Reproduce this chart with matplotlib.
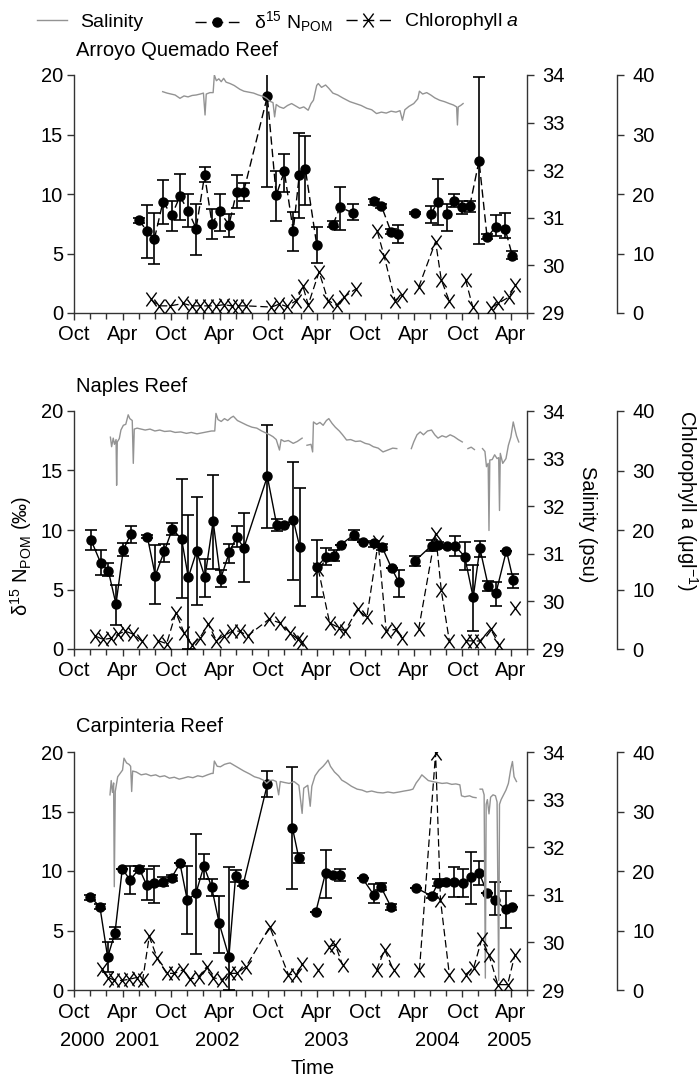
import numpy as np
import matplotlib
matplotlib.use("Agg")
import matplotlib.pyplot as plt
from matplotlib.path import Path
from matplotlib.lines import Line2D

plt.rcParams['font.family'] = ['Liberation Sans', 'DejaVu Sans']
plt.rcParams['mathtext.fontset'] = 'custom'
plt.rcParams['mathtext.rm'] = 'Liberation Sans'
plt.rcParams['mathtext.it'] = 'Liberation Sans:italic'
plt.rcParams['font.size'] = 14.5

nan = np.nan

# time axis: months counted from 1 Oct 2000; nan = break in the line
# ---------------- Arroyo Quemado Reef ----------------
aq_month = [8.07, 8.98, 9.93, 11.0, 12.07, 13.1, 14.1, 15.1, 16.15, 17.06, 18.0, 19.16, 20.1, 20.97,
            23.9, 25.0, 26.0, 27.1, 27.85, 28.6, 30.0, nan,
            32.0, 32.9, 34.5, nan, 37.1, 38.0, 39.2, 40.1, nan, 42.1, nan,
            44.1, 45.0, 46.05, 46.98, 48.0, 48.93, 50.07, 51.07, 52.14, 53.3, 54.2]
aq_d15n = [7.8, 6.9, 6.2, 9.35, 8.2, 9.8, 8.6, 7.1, 11.6, 7.5, 8.55, 7.4, 10.2, 10.2,
           18.2, 9.9, 11.9, 6.9, 11.6, 12.1, 5.75, nan,
           7.4, 8.9, 8.4, nan, 9.4, 9.0, 6.8, 6.65, nan, 8.4, nan,
           8.3, 9.35, 8.3, 9.4, 8.9, 9.0, 12.8, 6.35, 7.25, 7.05, 4.8]
aq_lo = [7.6, 4.6, 4.1, 7.5, 6.9, 7.8, 7.2, 4.9, 11.0, 6.2, 6.9, 6.4, 8.8, 9.4,
         10.6, 7.7, 10.2, 5.2, 8.0, 9.1, 4.2, nan,
         7.2, 7.0, 7.8, nan, 9.1, 8.8, 6.6, 5.9, nan, 8.3, nan,
         7.6, 7.4, 6.9, 8.9, 8.3, 8.5, 5.8, 6.2, 6.5, 6.3, 4.5]
aq_hi = [8.0, 9.1, 8.4, 11.2, 9.4, 11.7, 10.0, 9.2, 12.3, 8.7, 10.0, 8.3, 11.6, 10.9,
         20.4, 11.9, 13.4, 8.5, 15.1, 14.9, 7.2, nan,
         7.7, 10.6, 9.2, nan, 9.6, 9.2, 7.1, 7.4, nan, 8.5, nan,
         9.0, 11.3, 9.2, 10.0, 9.4, 9.4, 19.8, 6.6, 8.2, 8.4, 5.2]
aq_chl_month = [9.5, 10.5, 11.9, 13.5, 14.6, 15.6, 16.6, 17.55, 18.5, 19.5, 20.3, 21.3, 24.4, 25.4,
                26.3, 27.5, 28.3, 28.95, 30.3, 31.4, 32.46, 33.4, 34.9, nan,
                37.5, 38.35, 39.7, 40.5, nan, 42.6, 44.7, 45.4, 46.4, nan,
                48.4, 49.3, nan, 51.6, 52.4, 53.8, 54.5]
aq_chl = [2.3, 1.2, 1.2, 1.6, 1.2, 1.2, 1.2, 1.2, 1.4, 1.2, 1.2, 1.2, 1.0, 1.5,
          1.1, 2.1, 4.5, 1.4, 6.9, 2.1, 1.3, 2.7, 4.1, nan,
          13.7, 9.5, 2.1, 3.0, nan, 4.3, 12.0, 5.6, 2.0, nan,
          5.6, 1.0, nan, 0.9, 1.6, 2.7, 4.7]
aq_sal_month = [10.96, 11.5, 12.0, 12.5, 13.1, 13.6, 14.1, 14.6, 15.1, 15.6, 16.0, 16.2, 16.35, 16.8,
                17.2, 17.35, 17.6, 17.9, 18.2, 18.5, 18.8, 19.3, 19.8, 20.5, 21.0, 21.6, 22.2, 22.8,
                23.4, 23.8, 24.2, 24.6, 24.8, 25.0, 25.4, 25.9, 26.4, 26.9, 27.4, 27.9, 28.4, 28.95,
                29.3, 29.6, 30.0, 30.2, 30.6, 31.1, 31.5, 32.0, 32.6, 33.2, 34.1, 34.8, 35.5, 36.2,
                36.8, 37.4, 38.0, 38.6, 39.2, 39.8, 40.3, 40.6, 40.9, 41.4, 42.0, 42.5, 42.7, 43.1,
                43.6, 44.1, 44.6, 45.2, 45.8, 46.4, 46.9, 47.3, 47.4, 47.5, 47.8, 48.1]
aq_sal = [33.65, 33.62, 33.60, 33.58, 33.51, 33.56, 33.54, 33.57, 33.58, 33.60, 33.62, 33.16, 33.60, 33.63,
          33.63, 34.00, 33.88, 33.92, 33.86, 33.93, 33.85, 33.82, 33.78, 33.70, 33.66, 33.64, 33.62, 33.58,
          33.55, 33.51, 33.45, 33.42, 33.12, 33.38, 33.33, 33.30, 33.36, 33.40, 33.35, 33.30, 33.33, 33.26,
          33.40, 33.47, 33.78, 33.82, 33.74, 33.79, 33.72, 33.62, 33.58, 33.52, 33.44, 33.40, 33.36, 33.30,
          33.27, 33.19, 33.22, 33.20, 33.24, 33.22, 33.25, 33.05, 33.27, 33.34, 33.40, 33.50, 33.66, 33.60,
          33.63, 33.58, 33.52, 33.47, 33.44, 33.40, 33.37, 33.33, 32.95, 33.33, 33.36, 33.40]

# ---------------- Naples Reef ----------------
nr_month = [2.1, 3.3, 4.24, 5.19, 6.09, 7.04, nan, 9.06, 10.05, 11.16, 12.15, 13.3, 14.13, 15.16, 16.19,
            17.2, 18.12, 19.2, 20.1, 21.0, 23.9, 25.05, 26.0, 27.1, 27.9, nan,
            30.0, 31.14, 32.1, 33.0, 34.6, 35.75, 37.1, 38.1, 39.25, 40.16, nan,
            42.2, 44.2, 45.0, 46.05, 47.08, 48.3, 49.35, 50.17, 51.2, 52.15, 53.46, 54.3]
nr_d15n = [9.17, 7.23, 6.58, 3.77, 8.33, 9.68, nan, 9.45, 6.16, 8.21, 10.07, 9.25, 6.02, 8.21, 6.02,
           10.74, 5.88, 8.13, 9.4, 8.5, 14.5, 10.46, 10.46, 10.86, 8.6, nan,
           6.86, 7.76, 7.85, 8.78, 9.6, 8.97, 8.9, 8.55, 6.81, 5.6, nan,
           7.43, 8.69, 8.78, 8.69, 8.69, 7.76, 4.33, 8.47, 5.32, 4.67, 8.27, 5.8]
nr_lo = [8.3, 6.2, 6.1, 2.0, 7.8, 8.9, nan, 9.3, 3.8, 7.3, 9.6, 4.3, 0.0, 3.7, 4.4,
         6.7, 5.2, 7.2, 8.6, 5.6, 10.2, 9.9, 10.46, 5.8, 3.6, nan,
         4.4, 7.1, 7.4, 8.78, 9.2, 8.97, 8.6, 8.3, 6.81, 4.4, nan,
         7.0, 8.2, 8.5, 8.69, 7.8, 6.6, 1.5, 7.7, 4.9, 3.6, 8.27, 5.1]
nr_hi = [10.0, 8.3, 7.2, 5.4, 8.9, 10.3, nan, 9.6, 8.7, 8.8, 10.6, 14.3, 11.3, 12.8, 7.6,
         14.6, 6.6, 8.8, 10.3, 11.4, 18.8, 10.9, 10.46, 15.7, 13.5, nan,
         9.2, 8.5, 8.3, 8.78, 10.0, 8.97, 9.1, 8.8, 6.81, 6.6, nan,
         7.8, 9.2, 9.0, 8.69, 9.5, 9.0, 7.1, 9.1, 5.7, 5.6, 8.27, 6.3]
nr_chl_month = [2.6, 3.6, 4.53, 5.48, 6.3, 7.33, 8.36, nan, 10.4, 11.45, 12.6, 13.6, 14.54, 15.57, 16.6,
                17.6, 18.5, 19.56, 20.5, 21.46, 24.1, 25.45, 26.7, 27.7, 28.2, nan,
                30.2, 31.6, 32.7, 33.5, 35.05, 36.2, 37.6, 38.6, 39.75, 40.5, nan,
                42.6, 44.7, 45.4, 46.4, nan, 48.4, 49.35, 50.2, 51.5, 52.55, nan, 54.57]
nr_chl = [2.2, 1.6, 1.8, 2.5, 3.0, 2.5, 1.35, nan, 1.4, 0.9, 6.1, 2.75, 0.7, 1.9, 4.2,
          1.4, 2.2, 3.0, 3.0, 2.2, 5.0, 4.4, 2.75, 1.6, 1.1, nan,
          13.4, 4.4, 3.6, 3.0, 6.7, 5.3, 17.9, 3.0, 3.3, 1.9, nan,
          3.3, 19.4, 9.9, 1.35, nan, 1.4, 1.35, 1.35, 3.4, 0.7, nan, 6.9]
nr_sal_month = [4.5, 4.65, 4.85, 5.0, 5.2, 5.27, 5.35, 5.6, 5.8, 6.1, 6.4, 6.7, 6.9, 7.2, 7.33, 7.45,
                7.8, 8.3, 8.8, 9.4, 10.0, 10.6, 11.2, 11.9, 12.5, 13.2, 13.9, 14.5, 15.2, 15.8, 16.4,
                17.0, 17.4, 17.55, 17.8, 18.2, 18.6, 19.0, 19.4, 19.7, 20.2, 20.8, 21.4, 22.0, 22.6,
                23.2, 23.7, 24.2, 24.6, 25.0, 25.4, 25.6, 26.0, 26.5, 27.1, 27.6, 28.2, nan,
                28.8, 29.3, 29.5, 29.6, 30.0, 30.4, 30.8, 31.2, 31.5, 31.9, 32.3, 32.8, 33.2, 33.7,
                34.2, 34.8, 35.4, 36.0, 36.5, 37.0, 37.6, 38.2, 38.8, 39.4, 39.9, nan,
                41.7, 42.0, 42.4, 42.8, 43.2, 43.7, 44.2, 44.6, 45.0, 45.5, 46.0, 46.5, 47.0, 47.5,
                48.0, nan, 48.7, 49.1, 49.5, nan,
                50.5, 50.8, 50.99, 51.2, 51.3, 51.4, 51.7, 52.0, 52.3, 52.5, 52.6, 52.7, 53.0, 53.4,
                53.7, 54.0, 54.3, 54.5, 54.7, 54.98]
nr_sal = [33.45, 33.25, 33.43, 33.30, 33.40, 32.44, 33.35, 33.42, 33.60, 33.70, 33.72, 33.92, 33.84,
          33.80, 32.90, 33.62, 33.64, 33.62, 33.60, 33.62, 33.58, 33.60, 33.57, 33.58, 33.55, 33.56,
          33.53, 33.55, 33.52, 33.54, 33.56, 33.58, 33.58, 33.95, 33.82, 33.78, 33.84, 33.80, 33.86,
          33.89, 33.80, 33.75, 33.70, 33.66, 33.64, 33.58, 33.54, 33.50, 33.46, 33.40, 33.18, 33.40,
          33.36, 33.38, 33.32, 33.36, 33.43, nan,
          33.28, 33.30, 33.14, 33.77, 33.72, 33.76, 33.70, 33.80, 33.84, 33.74, 33.66, 33.58, 33.50,
          33.39, 33.40, 33.36, 33.37, 33.32, 33.30, 33.25, 33.22, 33.14, 33.18, 33.22, 33.21, nan,
          33.21, 33.35, 33.50, 33.56, 33.50, 33.58, 33.60, 33.50, 33.43, 33.48, 33.45, 33.50, 33.46,
          33.40, 33.35, nan, 33.21, 33.24, 33.19, nan,
          33.21, 33.15, 32.83, 32.90, 31.49, 32.97, 32.98, 33.08, 33.00, 33.02, 31.91, 33.11, 32.90,
          33.00, 33.28, 33.45, 33.77, 33.62, 33.48, 33.35]

# ---------------- Carpinteria Reef ----------------
cr_month = [2.0, 3.2, 4.16, 5.07, 5.97, 6.92, 8.07, 8.98, 9.93, 11.04, 12.07, 13.1, 14.0, 15.07,
            16.06, 17.0, 17.95, 19.15, 19.98, 20.93, 23.9, nan, 27.0, 27.8, nan,
            29.9, 31.1, 32.0, 32.87, nan, 35.67, 37.07, 37.93, 39.17, nan,
            42.25, 44.2, 45.02, 45.97, 46.96, 48.1, 49.13, 50.08, 51.07, 52.02, 53.4, 54.1]
cr_d15n = [7.84, 7.0, 2.75, 4.82, 10.2, 9.24, 10.2, 8.82, 8.96, 9.1, 9.44, 10.64, 7.56, 8.12,
           10.42, 8.68, 5.6, 2.8, 9.58, 8.9, 17.28, nan, 13.64, 11.06, nan,
           6.58, 9.86, 9.66, 9.7, nan, 9.38, 7.98, 8.68, 7.0, nan,
           8.6, 7.9, 9.0, 9.06, 9.06, 9.0, 9.47, 9.86, 8.18, 7.56, 6.78, 6.95]
cr_lo = [7.6, 6.8, 1.5, 4.3, 10.2, 8.1, 10.0, 7.6, 7.3, 8.7, 9.2, 10.64, 4.7, 3.0,
         9.3, 7.9, 3.1, 0.0, 9.1, 8.7, 16.2, nan, 8.5, 10.7, nan,
         6.58, 7.7, 9.66, 9.2, nan, 9.38, 7.3, 8.4, 6.7, nan,
         8.6, 7.7, 8.7, 9.06, 7.8, 7.8, 7.2, 8.8, 8.18, 6.3, 5.2, 6.95]
cr_hi = [8.0, 7.2, 4.0, 5.3, 10.2, 10.4, 10.4, 10.2, 10.4, 9.5, 9.7, 10.64, 10.4, 13.1,
         11.4, 9.3, 7.9, 10.3, 10.1, 9.1, 18.4, nan, 18.7, 11.5, nan,
         6.58, 11.8, 9.66, 10.2, nan, 9.38, 8.9, 9.0, 7.2, nan,
         8.6, 8.1, 9.3, 9.06, 10.3, 10.2, 11.6, 10.8, 8.18, 9.1, 8.3, 6.95]
cr_chl_month = [3.5, 4.24, 4.9, 5.89, 6.83, 7.74, 8.48, 9.3, 10.3, 11.45, 12.4, 13.5, 14.3, 15.4,
                16.4, 17.2, 18.25, 19.3, 20.1, 21.25, 24.2, 26.5, 27.5, 28.2, nan, 30.2, nan,
                31.5, 32.3, 33.2, nan, 37.4, 38.4, 39.5, nan, 42.7, 44.7, 45.3, 46.4, nan,
                48.4, 49.4, 50.4, 51.3, 52.4, 53.6, 54.5]
cr_chl = [3.5, 2.1, 1.7, 1.6, 1.8, 2.1, 1.6, 9.0, 5.3, 2.8, 2.8, 3.4, 1.8, 2.2,
          3.9, 2.1, 1.7, 2.8, 2.8, 3.9, 10.6, 2.6, 2.6, 4.4, nan, 3.3, nan,
          7.3, 7.6, 4.2, nan, 3.3, 6.8, 3.3, nan, 3.3, 39.8, 15.2, 2.6, nan,
          2.6, 3.7, 8.5, 5.9, 0.9, 0.9, 5.9]
cr_sal_month = [4.45, 4.6, 4.75, 4.9, 4.98, 5.1, 5.4, 5.7, 6.0, 6.18, 6.5, 6.8, 7.0, 7.13, 7.25, 7.7,
                8.3, 8.9, 9.5, 10.1, 10.6, 11.2, 11.8, 12.4, 13.0, 13.5, 14.1, 14.7, 15.3, 15.9, 16.5,
                17.0, 17.2, 17.35, 17.7, 18.1, 18.6, 19.0, 19.3, 19.8, 20.4, 21.0, 21.7, 22.3, 22.9,
                23.5, 23.8, 24.2, 24.6, 25.0, 25.3, 25.5, 26.0, 26.6, 27.2, 27.8, 28.2, 28.4, 28.9,
                29.2, 29.4, 29.8, 30.3, 30.8, 31.2, 31.4, 31.7, 32.2, 32.7, 33.1, 33.7, 34.3, 35.0,
                35.6, 36.2, 36.8, 37.5, 38.2, 38.8, 39.5, 40.2, 40.8, 41.5, 41.9, 42.3, 42.7, 43.0,
                43.4, 43.8, 44.3, 44.9, 45.5, 46.1, 46.7, 47.2, 47.7, 47.9, 48.3, 48.9, 49.3, 49.7, nan,
                50.2, 50.5, 50.7, 50.85, 50.95, 51.1, 51.3, 51.5, 51.8, 52.1, 52.3, 52.5, 52.6, 52.8,
                53.1, 53.4, 53.7, 54.0, 54.2, 54.4, 54.7]
cr_sal = [33.10, 33.40, 33.15, 33.35, 31.17, 33.17, 33.48, 33.55, 33.62, 33.87, 33.77, 33.74, 33.70,
          33.17, 33.60, 33.58, 33.52, 33.54, 33.50, 33.52, 33.48, 33.50, 33.45, 33.47, 33.43, 33.45,
          33.48, 33.46, 33.50, 33.48, 33.52, 33.55, 33.55, 33.81, 33.70, 33.69, 33.74, 33.76, 33.77,
          33.72, 33.66, 33.60, 33.54, 33.48, 33.45, 33.40, 33.34, 33.40, 33.41, 33.38, 33.10, 33.38,
          33.36, 33.34, 33.38, 33.30, 32.71, 33.24, 33.30, 32.86, 33.28, 33.50, 33.62, 33.70, 33.78,
          33.83, 33.70, 33.58, 33.50, 33.41, 33.35, 33.28, 33.22, 33.20, 33.16, 33.18, 33.15, 33.14,
          33.16, 33.14, 33.16, 33.18, 33.20, 33.22, 33.35, 33.44, 33.52, 33.46, 33.40, 33.38, 33.36,
          33.34, 33.35, 33.32, 33.33, 33.31, 33.08, 33.06, 33.08, 33.05, 33.04, nan,
          33.22, 33.22, 33.10, 29.25, 32.90, 33.00, 32.70, 33.05, 33.10, 33.08, 32.95, 29.20, 32.90,
          33.00, 33.10, 33.20, 33.34, 33.65, 33.80, 33.48, 33.38]

# ticks and annotations
tick_months = np.arange(0, 55, 6)
tick_names = ['Oct', 'Apr'] * 5
year_names = ['2000', '2001', '2002', '2003', '2004', '2005']
year_months = [1.0, 7.8, 17.7, 31.2, 44.9, 53.8]

panels = [
    ('Arroyo Quemado Reef', aq_month, aq_d15n, aq_lo, aq_hi, (0, (6, 3)),
     aq_chl_month, aq_chl, aq_sal_month, aq_sal),
    ('Naples Reef', nr_month, nr_d15n, nr_lo, nr_hi, '-',
     nr_chl_month, nr_chl, nr_sal_month, nr_sal),
    ('Carpinteria Reef', cr_month, cr_d15n, cr_lo, cr_hi, '-',
     cr_chl_month, cr_chl, cr_sal_month, cr_sal),
]

# letter-like X marker (taller than wide)
xmark = Path([(-0.37, -0.5), (0.37, 0.5), (-0.37, 0.5), (0.37, -0.5)],
             [Path.MOVETO, Path.LINETO, Path.MOVETO, Path.LINETO])

W, H = 699, 1076
fig = plt.figure(figsize=(W / 100, H / 100), dpi=100)
spine_col = '#333333'
sal_col = '#939393'
dash = (0, (6, 3))
ax_tops = [75, 411, 752]
ax_h = 238
fs = 14.5

for i, (title, mo, d, lo, hi, ls, cmo, chl, smo, sal) in enumerate(panels):
    top = ax_tops[i]
    ax = fig.add_axes([74 / W, 1 - (top + ax_h) / H, 453 / W, ax_h / H])
    sx = ax.twinx()
    cx = ax.twinx()
    cx.spines['right'].set_position(('axes', (617 - 74) / 453))

    d = np.array(d)
    yerr = [d - np.array(lo), np.array(hi) - d]
    ax.errorbar(mo, d, yerr=yerr, fmt='none', ecolor='k', elinewidth=1.2,
                capsize=4.5, capthick=1.2, zorder=3)
    ax.plot(mo, d, color='k', ls=ls, lw=1.0, marker='o', ms=6.5, zorder=4)

    sx.plot(smo, sal, color=sal_col, lw=1.0)
    cx.plot(cmo, chl, color='k', ls=dash, lw=0.9, marker=xmark, ms=10,
            mew=1.0, mfc='none')

    ax.set_xlim(0, 56)
    ax.set_ylim(0, 20)
    sx.set_ylim(29, 34)
    cx.set_ylim(0, 40)
    ax.set_yticks([0, 5, 10, 15, 20])
    sx.set_yticks([29, 30, 31, 32, 33, 34])
    cx.set_yticks([0, 10, 20, 30, 40])
    ax.set_xticks(tick_months)
    ax.set_xticklabels(tick_names)
    ax.set_xticks(np.arange(0, 57, 2), minor=True)

    for a in (ax, sx, cx):
        a.spines['top'].set_visible(False)
        for s in a.spines.values():
            s.set_color(spine_col)
            s.set_linewidth(1.0)
    ax.spines['right'].set_visible(False)
    for a in (sx, cx):
        a.spines['left'].set_visible(False)
        a.spines['bottom'].set_visible(False)
        a.patch.set_visible(False)

    ax.tick_params(axis='both', which='major', direction='out', length=5,
                   width=1.0, color=spine_col, labelsize=fs)
    ax.tick_params(axis='y', which='major', pad=3)
    ax.tick_params(axis='x', which='major', pad=4)
    ax.tick_params(axis='x', which='minor', direction='out', length=4,
                   width=1.0, color=spine_col)
    for a in (sx, cx):
        a.tick_params(axis='y', direction='out', length=5, width=1.0,
                      color=spine_col, labelsize=fs, pad=6)

    ax.text(0.005, 1 + 25 / ax_h, title, transform=ax.transAxes,
            ha='left', va='center', fontsize=fs)

    if i == 2:
        for yr, m in zip(year_names, year_months):
            ax.text(m, -50 / ax_h, yr, transform=ax.get_xaxis_transform(),
                    ha='center', va='center', fontsize=fs)
        ax.text(29.5, -78 / ax_h, 'Time', transform=ax.get_xaxis_transform(),
                ha='center', va='center', fontsize=fs)

fig.text(21 / W, 1 - 556 / H, 'δ$^{15}$ N$_{\\mathrm{POM}}$ (‰)', rotation=90,
         ha='center', va='center', fontsize=fs)
fig.text(587 / W, 1 - 524 / H, 'Salinity (psu)', rotation=270,
         ha='center', va='center', fontsize=fs)
fig.text(687 / W, 1 - 501 / H, 'Chlorophyll a (μgl$^{-1}$)', rotation=270,
         ha='center', va='center', fontsize=fs)

# legend entries, each placed on its own so the keys can differ in length
key_dash = (0, (8, 4))
legend_items = [
    (Line2D([], [], color=sal_col, lw=1.0), 'Salinity', 37, 1.55, 0.67),
    (Line2D([], [], color='k', ls=key_dash, lw=1.0, marker='o', ms=6.5),
     'δ$^{15}$ N$_{\\mathrm{POM}}$', 195, 2.25, 0.8),
    (Line2D([], [], color='k', ls=key_dash, lw=1.0, marker=xmark, ms=10, mew=1.0),
     'Chlorophyll $\\mathit{a}$', 346, 2.3, 0.7),
]
for handle, label, x0, hl, pad in legend_items:
    fig.legend([handle], [label], loc='center left',
               bbox_to_anchor=(x0 / W, 1 - 22 / H), frameon=False, fontsize=14,
               handlelength=hl, handletextpad=pad, borderpad=0, borderaxespad=0)

fig.savefig('out.png', dpi=100)
